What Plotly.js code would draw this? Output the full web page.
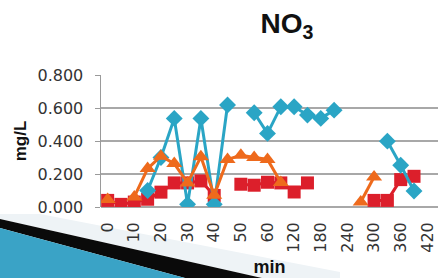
<!DOCTYPE html>
<html>
<head>
<meta charset="utf-8">
<script src="https://cdn.plot.ly/plotly-3.0.1.min.js"></script>
<style>html,body{margin:0;padding:0;background:#fff;}#chart{width:438px;height:278px;}</style>
</head>
<body>
<div id="chart"></div>
<script>
// Categories (minutes)
var minutes = ["0","5","10","15","20","25","30","35","40","45","50","55","60","90","120","150","180","210","240","270","300","330","360","390","420"];
var tickLabels = ["0","10","20","30","40","50","60","120","180","240","300","360","420"];

// Series values (mg/L), null = no measurement
var seriesBlue   = [null,null,null,0.10,0.30,0.537,0.016,0.537,0.016,0.618,null,0.571,0.446,0.608,0.608,0.557,0.537,0.587,null,null,null,0.399,0.253,0.097,null];
var seriesRed    = [0.040,0.016,0.030,0.047,0.090,0.146,0.146,0.158,0.070,null,0.138,0.132,0.150,0.146,0.091,0.146,null,null,null,null,0.040,0.040,0.166,0.186,null];
var seriesOrange = [0.045,null,0.061,0.233,0.308,0.263,0.146,0.304,0.071,0.288,0.314,0.300,0.288,0.148,null,null,null,null,null,0.030,0.182,null,null,null,null];

var W = 438, H = 278, ML = 101, MR = 0, MT = 75, MB = 71;
var PW = W - ML - MR, PH = H - MT - MB;
function px(x){ return ((x - ML) / PW).toFixed(4); }
function py(y){ return ((H - MB - y) / PH).toFixed(4); }
function poly(pts){ return 'M' + pts.map(function(p){ return px(p[0]) + ',' + py(p[1]); }).join(' L') + ' Z'; }

var traces = [
  {x: minutes, y: seriesRed, type: 'scatter', mode: 'lines+markers', connectgaps: false,
   line: {color: '#dc1f2b', width: 3}, marker: {symbol: 'square', size: 13, color: '#dc1f2b'}},
  {x: minutes, y: seriesBlue, type: 'scatter', mode: 'lines+markers', connectgaps: false,
   line: {color: '#2aa5c5', width: 3}, marker: {symbol: 'diamond', size: 13, color: '#2aa5c5'}},
  {x: minutes, y: seriesOrange, type: 'scatter', mode: 'lines+markers', connectgaps: false,
   line: {color: '#ee6a1c', width: 3}, marker: {symbol: 'triangle-up', size: 14, color: '#ee6a1c'}}
];

var layout = {
  width: W, height: H,
  margin: {l: ML, r: MR, t: MT, b: MB, pad: 0},
  paper_bgcolor: '#ffffff', plot_bgcolor: '#ffffff',
  showlegend: false,
  font: {family: 'DejaVu Sans, sans-serif', color: '#333333'},
  title: {text: '<b>NO<sub>3</sub></b>', font: {family: 'Liberation Sans, Arial, sans-serif', size: 28, color: '#111111'},
          x: 287 / W, xanchor: 'center', xref: 'container', yref: 'container', y: 1 - 23 / H, yanchor: 'middle'},
  xaxis: {
    type: 'category', categoryorder: 'array', categoryarray: minutes,
    range: [-0.5, minutes.length - 0.5 + 0.3],
    tickmode: 'array', tickvals: tickLabels, ticktext: tickLabels,
    tickangle: -90, tickfont: {size: 16, color: '#333333'},
    showgrid: false, zeroline: false, showline: false, ticks: '', ticklabelstandoff: 11,
    title: {text: '<b>min</b>', font: {size: 18, color: '#111111', family: 'Liberation Sans, Arial, sans-serif'}, standoff: 8}
  },
  yaxis: {
    range: [0, 0.8], tickvals: [0, 0.2, 0.4, 0.6, 0.8], tickformat: '.3f',
    tickfont: {size: 16, color: '#333333'},
    showgrid: true, gridcolor: '#a8a8a8', gridwidth: 1.5,
    zeroline: true, zerolinecolor: '#a8a8a8', zerolinewidth: 1.5,
    showline: true, linecolor: '#9a9a9a', linewidth: 1.5,
    ticks: 'outside', ticklen: 5, tickcolor: '#9a9a9a', ticklabelstandoff: 8,
    title: {text: '<b>mg/L</b>', font: {size: 17, color: '#111111', family: 'Liberation Sans, Arial, sans-serif'}, standoff: 6}
  },
  shapes: [
    {type: 'path', xref: 'paper', yref: 'paper', layer: 'below', line: {width: 0},
     fillcolor: '#eef3f6', path: poly([[40,214],[340,272],[340,278],[262,278],[0,219],[0,214]])},
    {type: 'path', xref: 'paper', yref: 'paper', layer: 'below', line: {width: 0},
     fillcolor: '#0a0a0a', path: poly([[0,219],[262,278],[185,278],[0,228]])},
    {type: 'path', xref: 'paper', yref: 'paper', layer: 'below', line: {width: 0},
     fillcolor: '#3aa3c6', path: poly([[0,228],[185,278],[0,278]])}
  ]
};

Plotly.newPlot('chart', traces, layout, {displayModeBar: false, staticPlot: true});
</script>
</body>
</html>
